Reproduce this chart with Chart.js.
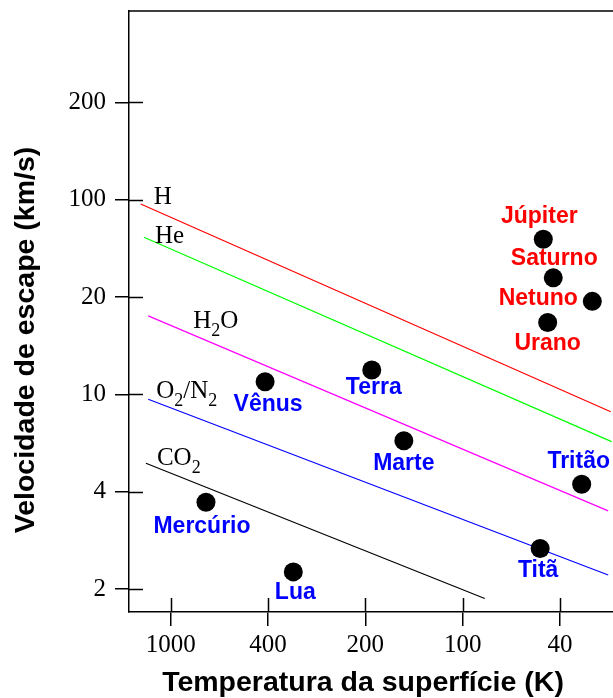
<!DOCTYPE html>
<html>
<head>
<meta charset="utf-8">
<script src="https://cdn.jsdelivr.net/npm/chart.js@4.4.0/dist/chart.umd.min.js"></script>
<style>
html, body { margin: 0; padding: 0; background: #fff; }
#wrap { width: 613px; height: 698px; }
</style>
</head>
<body>
<div id="wrap"><canvas id="chart" width="613" height="698"></canvas></div>
<script>
// rótulos dos eixos (igualmente espaçados no gráfico original)
var xTicks = [1000, 400, 200, 100, 40];
var yTicks = [2, 4, 10, 20, 100, 200];

// corpos: temperatura (K) e velocidade de escape (km/s)
var planets = ['Júpiter', 'Saturno', 'Netuno', 'Urano', 'Terra', 'Vênus', 'Marte', 'Tritão', 'Titã', 'Mercúrio', 'Lua'];
var planetTemp = [46.8, 42.6, 29.5, 44.9, 191, 411, 152, 32.6, 48.2, 717, 334];
var planetVel = [52, 27.5, 19.4, 16.7, 11.9, 10.95, 6.46, 4.29, 2.67, 3.71, 2.26];
var giants = ['Júpiter', 'Saturno', 'Netuno', 'Urano'];

// linhas de retenção dos gases (início e fim)
var gases = ['H', 'He', 'H2O', 'O2/N2', 'CO2'];
var gasTempStart = [1326, 1286, 1235, 1235, 1262];
var gasTempEnd = [24.8, 24.6, 25.4, 25.4, 81.2];
var gasVelStart = [93.3, 53.8, 17.5, 9.55, 5.23];
var gasVelEnd = [8.49, 6.41, 3.49, 2.21, 1.87];

var gasColors = ['#ff0000', '#00ff00', '#ff00ff', '#0000ff', '#000000'];
var planetLabelOffset = [[-4, -23], [1, -19], [-54, -3], [0, 21], [2, 18], [3, 23], [0, 23], [-3, -23], [-2, 22], [-4, 24], [2, 21]];
var gasLabelOffset = [[13, 0], [11, 6], [45, 12], [8, -1], [11, 2]];

var serif = '"Liberation Serif", "Times New Roman", serif';
var sans = '"Liberation Sans", Arial, sans-serif';

// posição no eixo: interpolação logarítmica entre rótulos vizinhos
function tickPos(v, ticks) {
    var n = ticks.length;
    var up = ticks[1] > ticks[0];
    var i = 0;
    while (i < n - 2 && (up ? v > ticks[i + 1] : v < ticks[i + 1])) i++;
    return i + Math.log(v / ticks[i]) / Math.log(ticks[i + 1] / ticks[i]);
}

var datasets = [{
    label: 'corpos',
    data: planets.map(function (p, i) {
        return { x: tickPos(planetTemp[i], xTicks), y: tickPos(planetVel[i], yTicks) };
    }),
    pointRadius: 9.5,
    pointBackgroundColor: '#000',
    pointBorderWidth: 0,
    order: 0
}];
gases.forEach(function (g, i) {
    datasets.push({
        label: g,
        data: [
            { x: tickPos(gasTempStart[i], xTicks), y: tickPos(gasVelStart[i], yTicks) },
            { x: tickPos(gasTempEnd[i], xTicks), y: tickPos(gasVelEnd[i], yTicks) }
        ],
        showLine: true,
        borderColor: gasColors[i],
        borderWidth: 1.2,
        pointRadius: 0,
        order: 1
    });
});

function drawFormula(ctx, text, x, y) {
    var parts = text.match(/\d+|[^\d]+/g);
    parts.forEach(function (t) {
        var sub = /^\d+$/.test(t);
        ctx.font = (sub ? '18px ' : '25px ') + serif;
        ctx.fillText(t, x, sub ? y + 8 : y);
        x += ctx.measureText(t).width;
    });
}

function noPadding(s) {
    s.paddingTop = 0;
    s.paddingBottom = 0;
    s.paddingLeft = 0;
    s.paddingRight = 0;
}

var overlay = {
    id: 'overlay',
    afterDraw: function (chart) {
        var ctx = chart.ctx, a = chart.chartArea, xs = chart.scales.x, ys = chart.scales.y;
        ctx.save();
        ctx.strokeStyle = '#000';
        ctx.lineWidth = 1.5;
        ctx.beginPath();
        ctx.moveTo(a.left, a.top);
        ctx.lineTo(a.right, a.top);
        for (var i = 0; i < yTicks.length; i++) {
            var py = Math.round(ys.getPixelForValue(i)) + 0.5;
            ctx.moveTo(a.left, py);
            ctx.lineTo(a.left + 14, py);
        }
        for (var j = 0; j < xTicks.length; j++) {
            var px = Math.round(xs.getPixelForValue(j)) + 0.5;
            ctx.moveTo(px, a.bottom);
            ctx.lineTo(px, a.bottom - 14);
        }
        ctx.stroke();

        // nomes dos corpos
        ctx.font = 'bold 23px ' + sans;
        ctx.textAlign = 'center';
        ctx.textBaseline = 'middle';
        planets.forEach(function (p, k) {
            var x = xs.getPixelForValue(tickPos(planetTemp[k], xTicks));
            var y = ys.getPixelForValue(tickPos(planetVel[k], yTicks));
            ctx.fillStyle = giants.indexOf(p) >= 0 ? '#ff0000' : '#0000ff';
            ctx.fillText(p, x + planetLabelOffset[k][0], y + planetLabelOffset[k][1]);
        });

        // nomes dos gases
        ctx.fillStyle = '#000';
        ctx.textAlign = 'left';
        ctx.textBaseline = 'alphabetic';
        gases.forEach(function (g, k) {
            var x = xs.getPixelForValue(tickPos(gasTempStart[k], xTicks));
            var y = ys.getPixelForValue(tickPos(gasVelStart[k], yTicks));
            drawFormula(ctx, g, x + gasLabelOffset[k][0], y + gasLabelOffset[k][1]);
        });

        // títulos dos eixos
        ctx.font = 'bold 28.5px ' + sans;
        ctx.textAlign = 'center';
        ctx.textBaseline = 'middle';
        ctx.fillText('Temperatura da superfície (K)', 363, 683);
        ctx.translate(26, 340);
        ctx.rotate(-Math.PI / 2);
        ctx.fillText('Velocidade de escape (km/s)', 0, 0);
        ctx.restore();
    }
};

new Chart(document.getElementById('chart'), {
    type: 'scatter',
    data: { datasets: datasets },
    options: {
        responsive: false,
        animation: false,
        layout: { autoPadding: false, padding: { top: 11, right: 0, bottom: 0, left: 0 } },
        plugins: { legend: { display: false }, tooltip: { enabled: false } },
        scales: {
            x: {
                type: 'linear',
                min: -0.428,
                max: 4.545,
                afterBuildTicks: function (s) { s.ticks = xTicks.map(function (v, i) { return { value: i }; }); },
                afterFit: function (s) { s.height = 86; noPadding(s); },
                ticks: {
                    callback: function (v, i) { return String(xTicks[i]); },
                    font: { family: serif, size: 25 },
                    color: '#000',
                    padding: 4,
                    autoSkip: false,
                    maxRotation: 0
                },
                grid: { display: true, drawOnChartArea: false, drawTicks: true, tickLength: 14, color: '#000', lineWidth: 1.5 },
                border: { display: true, color: '#000', width: 1.5 }
            },
            y: {
                type: 'linear',
                min: -0.236,
                max: 5.94,
                afterBuildTicks: function (s) { s.ticks = yTicks.map(function (v, i) { return { value: i }; }); },
                afterFit: function (s) { s.width = 129; noPadding(s); },
                ticks: {
                    callback: function (v, i) { return String(yTicks[i]); },
                    font: { family: serif, size: 25 },
                    color: '#000',
                    padding: 9,
                    autoSkip: false
                },
                grid: { display: true, drawOnChartArea: false, drawTicks: true, tickLength: 14, color: '#000', lineWidth: 1.5 },
                border: { display: true, color: '#000', width: 1.5 }
            }
        }
    },
    plugins: [overlay]
});
</script>
</body>
</html>
